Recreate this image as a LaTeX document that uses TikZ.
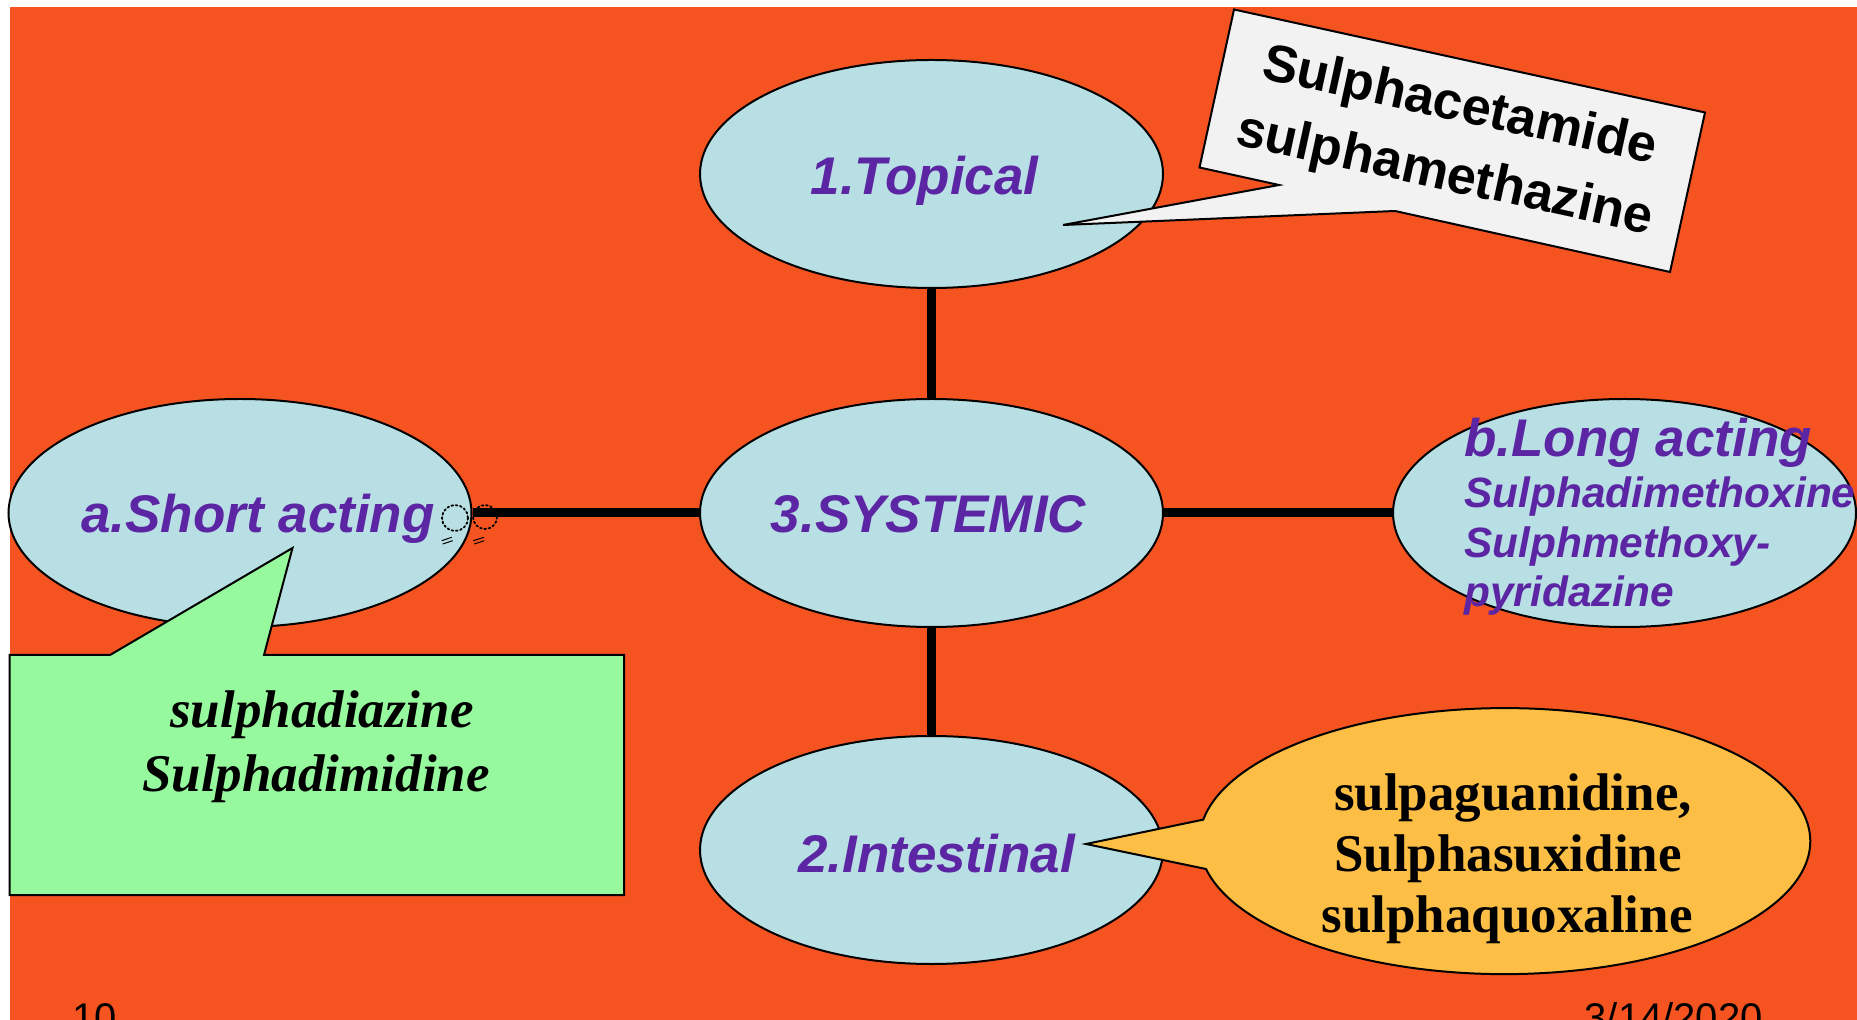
\documentclass[tikz,border=0pt]{standalone}
\usepackage{fontspec}
\setmainfont{Liberation Serif}
\newfontfamily\asans{Liberation Sans}
\newfontfamily\tserif{Liberation Serif}
\usetikzlibrary{shapes.geometric}
\definecolor{bgorange}{HTML}{F55421}
\definecolor{ellfill}{HTML}{B8DFE3}
\definecolor{purp}{HTML}{5B25A3}
\definecolor{calgreen}{HTML}{96F99E}
\definecolor{calyellow}{HTML}{FCBE44}
\definecolor{calgray}{HTML}{F2F2F2}
\begin{document}
\begin{tikzpicture}[x=0.5pt,y=-0.5pt,
  ell/.style={ellipse, draw=black, line width=1pt, fill=ellfill, minimum width=231.5pt, minimum height=114pt, inner sep=0pt},
  conn/.style={line width=4.5pt, black},
  lbl/.style={font=\asans\bfseries\itshape\fontsize{26.5}{30}\selectfont, text=purp, anchor=base, inner sep=0pt},
  lsub/.style={font=\asans\bfseries\itshape\fontsize{21.2}{25}\selectfont, text=purp, anchor=base west, inner sep=0pt},
  co/.style={draw=black, line width=1pt, line join=miter},
  gtext/.style={font=\tserif\bfseries\itshape\fontsize{26.5}{30}\selectfont, anchor=base, inner sep=0pt},
  ytext/.style={font=\tserif\bfseries\fontsize{26.5}{30}\selectfont, anchor=base, inner sep=0pt},
  ctext/.style={font=\asans\bfseries\fontsize{26.2}{35}\selectfont, align=center, inner sep=0pt, rotate=-12.3},
  foot/.style={font=\asans\fontsize{20}{24}\selectfont, inner sep=0pt},
  dotc/.style={line width=0.9pt, dash pattern=on 0.9pt off 1.3pt, line cap=round}
]
\useasboundingbox (0,0) rectangle (1857,1020);
\fill[white] (0,0) rectangle (1857,1020);
\fill[bgorange] (10,7) rectangle (1857,1020);

% ellipses
\node[ell] (top) at (931.5,174) {};
\node[ell] (sys) at (931.5,513) {};
\node[ell] (int) at (931.5,850) {};
\node[ell] (short) at (240,513) {};
\node[ell] (long) at (1624.5,513) {};

% connectors
\draw[conn] (top) -- (sys);
\draw[conn] (sys) -- (int);
\draw[conn] (short) -- (sys);
\draw[conn] (sys) -- (long);

% labels
\node[lbl] (tTop) at (924.5,195) {1.Topical};
\node[lbl] (tSys) at (928.5,533) {3.SYSTEMIC};
\node[lbl] (tShort) at (258,533) {a.Short acting};
\node[lbl] (tInt) at (936.5,872) {2.Intestinal};
\node[lbl, anchor=base west] (tLong) at (1464,457) {b.Long acting};
\node[lsub] (tLong2) at (1464,508) {Sulphadimethoxine};
\node[lsub] (tLong3) at (1464,558) {Sulphmethoxy-};
\node[lsub] (tLong4) at (1464,607) {pyridazine};

% small dotted marks
\draw[dotc] (455,518) circle[radius=13];
\draw[dotc] (485,517) circle[radius=12];
\draw[line width=0.5pt] (441.7,540.7) -- (451.7,537.3) (442.7,544) -- (452.7,540.7);
\draw[line width=0.5pt] (473.3,540.7) -- (484,537.3) (474.3,544) -- (484.3,540.7);

% Topical callout
\draw[co, fill=calgray] (1234,9.5) -- (1705,112.5) -- (1670,272) -- (1395,211) -- (1063,225) -- (1279,185) -- (1199.5,167.5) -- cycle;
\node[ctext] (cTop) at (1452,142) {Sulphacetamide\\sulphamethazine};

% Short acting callout
\draw[co, fill=calgreen] (9.5,655) -- (110,655) -- (292.5,548) -- (264,655) -- (624,655) -- (624,895) -- (9.5,895) -- cycle;
\node[gtext] (cShort1) at (322,727) {sulphadiazine};
\node[gtext] (cShort2) at (316,791) {Sulphadimidine};

% Intestinal callout
\draw[co, fill=calyellow] (1086,844) -- (1206,869) arc[start angle=167.9, end angle=-170.7, x radius=305.5, y radius=133] -- cycle;
\node[ytext] (cInt1) at (1513,810) {sulpaguanidine,};
\node[ytext] (cInt2) at (1508,871) {Sulphasuxidine};
\node[ytext] (cInt3) at (1507,932) {sulphaquoxaline};

% footer
\node[foot, anchor=base west] (pg) at (72,1031) {10};
\node[foot, anchor=base east] (dt) at (1763,1031) {3/14/2020};
\end{tikzpicture}
\end{document}
